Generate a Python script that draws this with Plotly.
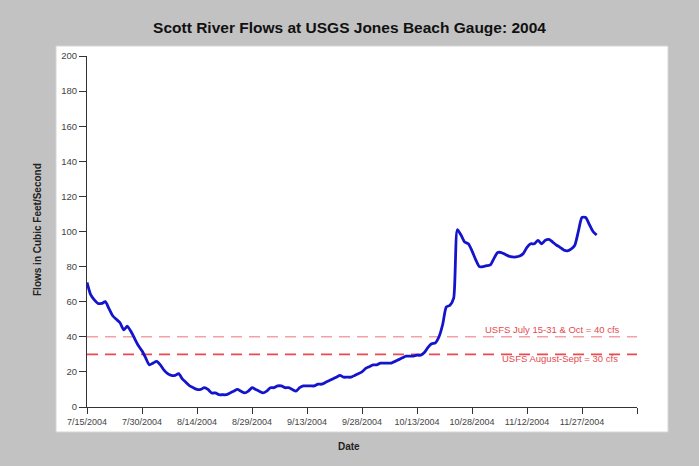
import pandas as pd
import plotly.graph_objects as go

# ---- data (daily flows, cfs) ----
start_date = "2004-07-15"
flows = [
    71, 64, 61, 59, 59, 60, 56, 52, 50, 48,   # 7/15 - 7/24
    44, 46, 43, 39, 35, 32, 28, 24, 25, 26,   # 7/25 - 8/3
    24, 21, 19, 18, 18, 19, 16, 14, 12, 11,   # 8/4 - 8/13
    10, 10, 11, 10, 8, 8, 7, 7, 7, 8,         # 8/14 - 8/23
    9, 10, 9, 8, 9, 11, 10, 9, 8, 9,          # 8/24 - 9/2
    11, 11, 12, 12, 11, 11, 10, 9, 11, 12,    # 9/3 - 9/12
    12, 12, 12, 13, 13, 14, 15, 16, 17, 18,   # 9/13 - 9/22
    17, 17, 17, 18, 19, 20, 22, 23, 24, 24,   # 9/23 - 10/2
    25, 25, 25, 25, 26, 27, 28, 29, 29, 29,   # 10/3 - 10/12
    29.5, 29.5, 31, 34, 36, 36.5, 40, 47, 57, 58,  # 10/13 - 10/22
    62, 101, 98, 94, 93, 89, 84, 80, 80, 80.5,     # 10/23 - 11/1
    81, 84.7, 88, 88, 87, 86, 85.5, 85.5, 86, 87.5,  # 11/2 - 11/11
    91, 93, 93, 95, 93, 95, 95.5, 94, 92.3, 91,      # 11/12 - 11/21
    89.5, 89, 90, 92, 100, 108, 108, 104, 100, 98,   # 11/22 - 12/1
]
dates = pd.date_range(start_date, periods=len(flows), freq="D")

axis_start = "2004-07-15"
axis_end = "2004-12-12"
tick_dates = ["2004-07-15", "2004-07-30", "2004-08-14", "2004-08-29", "2004-09-13",
              "2004-09-28", "2004-10-13", "2004-10-28", "2004-11-12", "2004-11-27",
              "2004-12-12"]
tick_labels = ["7/15/2004", "7/30/2004", "8/14/2004", "8/29/2004", "9/13/2004",
               "9/28/2004", "10/13/2004", "10/28/2004", "11/12/2004", "11/27/2004", ""]
y_ticks = [0, 20, 40, 60, 80, 100, 120, 140, 160, 180, 200]

threshold_oct = 40
threshold_aug = 30
label_oct = "USFS July 15-31 & Oct = 40 cfs"
label_aug = "USFS August-Sept = 30 cfs"
label_oct_x = "2004-11-19"
label_aug_x = "2004-11-21"

# ---- figure ----
W, H = 699, 466
L, R, T, B = 87, 62, 56, 59
pw, ph = W - L - R, H - T - B
GRAY = "#c2c2c2"

fig = go.Figure()

fig.add_trace(go.Scatter(
    x=[axis_start, axis_end], y=[threshold_oct, threshold_oct], mode="lines",
    line=dict(color="#f4a0a4", width=1.6, dash="11px,7px"), hoverinfo="skip"))
fig.add_trace(go.Scatter(
    x=[axis_start, axis_end], y=[threshold_aug, threshold_aug], mode="lines",
    line=dict(color="#ec4a50", width=1.6, dash="11px,7px"), hoverinfo="skip"))
fig.add_trace(go.Scatter(
    x=dates, y=flows, mode="lines",
    line=dict(color="#1414cc", width=2.8, shape="spline", smoothing=0.6)))

font_family = "Liberation Sans, Arial, sans-serif"

fig.update_layout(
    width=W, height=H,
    margin=dict(l=L, r=R, t=T, b=B),
    paper_bgcolor="white",
    plot_bgcolor="white",
    showlegend=False,
    font=dict(family=font_family, color="#333333"),
    title=dict(text="<b>Scott River Flows at USGS Jones Beach Gauge: 2004</b>",
               x=0.5, xanchor="center", y=1 - 28 / H, yanchor="middle",
               font=dict(size=15.5, color="#111111", family=font_family)),
    xaxis=dict(
        type="date", range=[axis_start, axis_end],
        tickmode="array", tickvals=tick_dates, ticktext=tick_labels,
        ticks="outside", ticklen=6, tickwidth=1, tickcolor="#333333",
        showline=True, linecolor="#333333", linewidth=1,
        showgrid=False, zeroline=False,
        tickfont=dict(size=9, color="#444444"),
    ),
    yaxis=dict(
        range=[0, 200], tickmode="array", tickvals=y_ticks,
        ticks="outside", ticklen=7, tickwidth=1, tickcolor="#333333",
        showline=True, linecolor="#333333", linewidth=1,
        showgrid=False, zeroline=False,
        tickfont=dict(size=9.5, color="#444444"),
    ),
    xaxis2=dict(
        type="date", range=[axis_start, axis_end], overlaying="x", anchor="y",
        side="bottom", matches="x",
        tickmode="array", tickvals=tick_dates, showticklabels=False,
        ticks="inside", ticklen=6, tickwidth=1, tickcolor="#333333",
        showline=False, showgrid=False, zeroline=False,
    ),
    yaxis2=dict(
        range=[0, 200], overlaying="y", anchor="x", side="left", matches="y",
        tickmode="array", tickvals=y_ticks, showticklabels=False,
        ticks="inside", ticklen=7, tickwidth=1, tickcolor="#333333",
        showline=False, showgrid=False, zeroline=False,
    ),
)

# gray frame around the white inner panel (panel: x 56-668, y 46-432 px)
def px_x(v):
    return (v - L) / pw


def px_y(v):
    return (H - B - v) / ph


frame = [
    (0, 0, W, 46),        # top
    (0, 432, W, H),       # bottom
    (0, 46, 56, 432),     # left
    (668, 46, W, 432),    # right
]
for x0, y0, x1, y1 in frame:
    fig.add_shape(type="rect", xref="paper", yref="paper", layer="above",
                  x0=px_x(x0), x1=px_x(x1), y0=px_y(y1), y1=px_y(y0),
                  fillcolor=GRAY, line=dict(width=0))
fig.add_shape(type="rect", xref="paper", yref="paper", layer="above",
              x0=px_x(56), x1=px_x(668), y0=px_y(432), y1=px_y(46),
              fillcolor="rgba(0,0,0,0)", line=dict(color="#d6d6d6", width=1))

# axis titles
fig.add_annotation(text="<b>Date</b>", xref="paper", yref="paper",
                   x=px_x(349), y=px_y(446),
                   xanchor="center", yanchor="middle", showarrow=False,
                   font=dict(size=10, color="#222222"))
fig.add_annotation(text="<b>Flows in Cubic Feet/Second</b>", xref="paper", yref="paper",
                   x=px_x(37), y=px_y(230), textangle=-90,
                   xanchor="center", yanchor="middle", showarrow=False,
                   font=dict(size=10, color="#222222"))

# threshold labels
fig.add_annotation(text=label_oct, x=label_oct_x, y=threshold_oct,
                   xanchor="center", yanchor="bottom", showarrow=False,
                   font=dict(size=9.5, color="#e44a50"))
fig.add_annotation(text=label_aug, x=label_aug_x, y=threshold_aug,
                   xanchor="center", yanchor="top", yshift=3, showarrow=False,
                   font=dict(size=9.5, color="#e44a50"))

fig.write_html("out.html", config={"displayModeBar": False},
               post_script="document.body.style.margin='0';document.body.style.overflow='hidden';")
